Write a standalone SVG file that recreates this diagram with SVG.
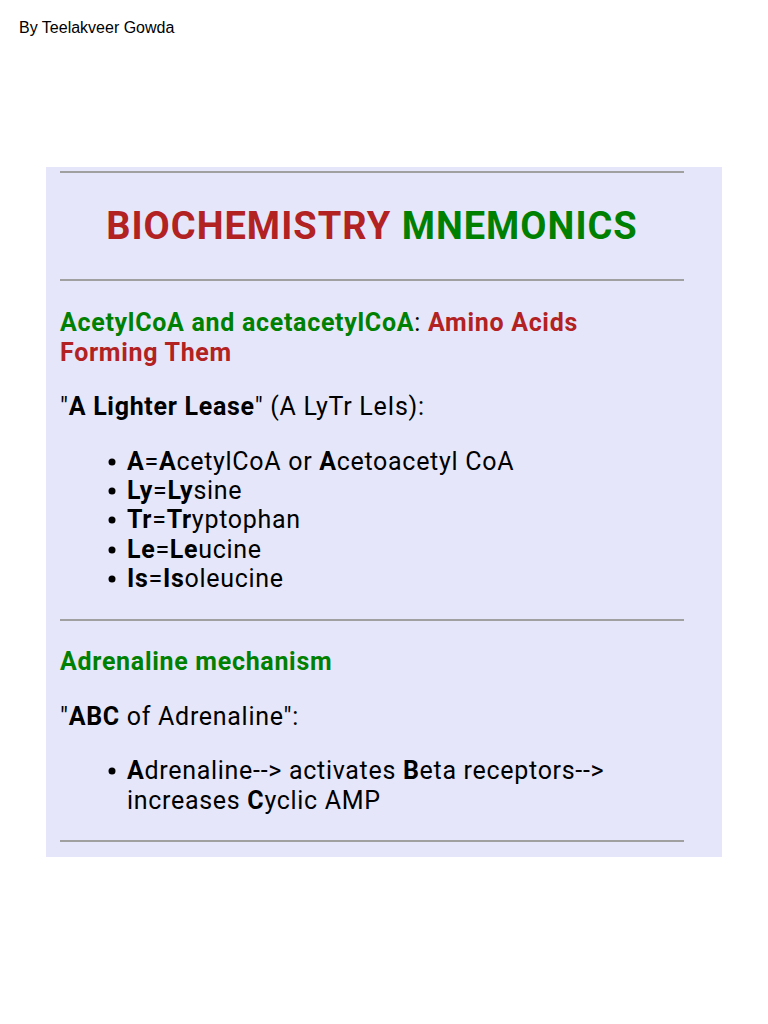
<svg xmlns="http://www.w3.org/2000/svg" width="768" height="1024" viewBox="0 0 768 1024">
<style>
.t{font-family:Roboto,"Liberation Sans",sans-serif;fill:#000;font-size:25px;letter-spacing:0.7px}
.b{font-weight:bold}
.g{fill:#008000}
.r{fill:#b22222}
.hr{stroke:#a0a0a0;stroke-width:2}
</style>
<rect width="768" height="1024" fill="#fff"/>
<text x="19" y="33" style="font-family:'Liberation Sans',Arial,sans-serif;font-size:16px">By Teelakveer Gowda</text>
<rect x="46" y="167" width="676" height="690" fill="#e6e6fa"/>
<line class="hr" x1="60" y1="172" x2="684" y2="172"/>
<line class="hr" x1="60" y1="280" x2="684" y2="280"/>
<line class="hr" x1="60" y1="620" x2="684" y2="620"/>
<line class="hr" x1="60" y1="841" x2="684" y2="841"/>
<text class="t b" x="372" y="239" text-anchor="middle" style="font-size:38px;letter-spacing:1px"><tspan class="r">BIOCHEMISTRY</tspan> <tspan class="g">MNEMONICS</tspan></text>
<text class="t b g" x="60" y="331"><tspan>AcetylCoA and acetacetylCoA</tspan><tspan style="fill:#000;font-weight:normal">:</tspan> <tspan class="r">Amino Acids</tspan></text>
<text class="t b r" x="60" y="361">Forming Them</text>
<text class="t" x="60" y="415">"<tspan class="b">A Lighter Lease</tspan>" (A LyTr LeIs):</text>
<g>
<circle cx="112" cy="462" r="3.5"/><text class="t" x="127" y="470"><tspan class="b">A</tspan>=<tspan class="b">A</tspan>cetylCoA or <tspan class="b">A</tspan>cetoacetyl CoA</text>
<circle cx="112" cy="491" r="3.5"/><text class="t" x="127" y="499"><tspan class="b">Ly</tspan>=<tspan class="b">Ly</tspan>sine</text>
<circle cx="112" cy="520" r="3.5"/><text class="t" x="127" y="528"><tspan class="b">Tr</tspan>=<tspan class="b">Tr</tspan>yptophan</text>
<circle cx="112" cy="550" r="3.5"/><text class="t" x="127" y="558"><tspan class="b">Le</tspan>=<tspan class="b">Le</tspan>ucine</text>
<circle cx="112" cy="579" r="3.5"/><text class="t" x="127" y="587"><tspan class="b">Is</tspan>=<tspan class="b">Is</tspan>oleucine</text>
</g>
<text class="t b g" x="60" y="670">Adrenaline mechanism</text>
<text class="t" x="60" y="725">"<tspan class="b">ABC</tspan> of Adrenaline":</text>
<circle cx="112" cy="771" r="3.5"/>
<text class="t" x="127" y="779"><tspan class="b">A</tspan>drenaline--&gt; activates <tspan class="b">B</tspan>eta receptors--&gt;</text>
<text class="t" x="127" y="809">increases <tspan class="b">C</tspan>yclic AMP</text>
</svg>
